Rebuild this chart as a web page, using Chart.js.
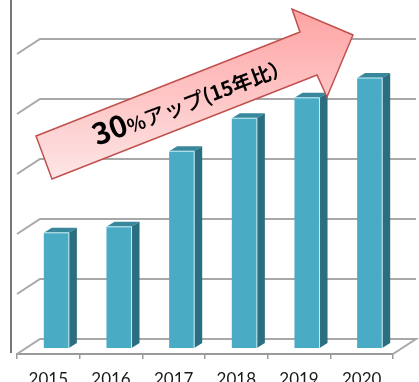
<!DOCTYPE html>
<html>
<head>
<meta charset="utf-8">
<script src="https://cdn.jsdelivr.net/npm/chart.js@4.4.1/dist/chart.umd.min.js"></script>
<style>
  html, body { margin: 0; padding: 0; background: #fff; }
  #wrap { width: 419px; height: 382px; }
</style>
</head>
<body>
<div id="wrap"><canvas id="grafik"></canvas></div>
<script>
// data (units = one back-wall gridline step)
const years = ["2015", "2016", "2017", "2018", "2019", "2020"];
const values = [1.92, 2.02, 3.28, 3.83, 4.17, 4.5];
const gridValues = [0, 1, 2, 3, 4, 5];

// 3D look
const WALL_DX = 23, WALL_DY = -15;   // back wall offset from front plane
const BAR_SHIFT_X = 8, BAR_SHIFT_Y = -6; // bars sit a bit behind the front edge
const BAR_DX = 8, BAR_DY = -5;       // bar depth

const fake3d = {
    id: "fake3d",
    beforeDatasetsDraw(chart) {
        const { ctx, chartArea: a, scales: { y } } = chart;
        ctx.save();
        // left frame line
        ctx.strokeStyle = "#4a4a4a";
        ctx.lineWidth = 1.5;
        ctx.beginPath();
        ctx.moveTo(a.left - 6, 0);
        ctx.lineTo(a.left - 6, a.bottom - 1);
        ctx.stroke();

        // wall gridlines + floor
        ctx.strokeStyle = "#a8a8a8";
        ctx.lineWidth = 2;
        gridValues.forEach(v => {
            const py = y.getPixelForValue(v);
            ctx.beginPath();
            ctx.moveTo(a.left, py);
            ctx.lineTo(a.left + WALL_DX, py + WALL_DY);
            ctx.lineTo(a.right + WALL_DX, py + WALL_DY);
            if (v === 0) ctx.lineTo(a.right, py);
            ctx.stroke();
        });
        ctx.restore();

        ctx.save();
        ctx.translate(BAR_SHIFT_X, BAR_SHIFT_Y);
    },
    afterDatasetsDraw(chart) {
        const { ctx } = chart;
        chart.getDatasetMeta(0).data.forEach(bar => {
            const { x, y, base, width } = bar.getProps(["x", "y", "base", "width"], true);
            const l = x - width / 2, r = x + width / 2;
            // top face
            ctx.fillStyle = "#38879c";
            ctx.beginPath();
            ctx.moveTo(l, y);
            ctx.lineTo(l + BAR_DX, y + BAR_DY);
            ctx.lineTo(r + BAR_DX, y + BAR_DY);
            ctx.lineTo(r, y);
            ctx.closePath();
            ctx.fill();
            // side face
            ctx.fillStyle = "#2b6e80";
            ctx.beginPath();
            ctx.moveTo(r, y);
            ctx.lineTo(r + BAR_DX, y + BAR_DY);
            ctx.lineTo(r + BAR_DX, base + BAR_DY);
            ctx.lineTo(r, base);
            ctx.closePath();
            ctx.fill();
            // light edge
            ctx.strokeStyle = "#c8eef8";
            ctx.lineWidth = 1;
            ctx.beginPath();
            ctx.moveTo(l, y);
            ctx.lineTo(r, y);
            ctx.lineTo(r, base);
            ctx.stroke();
        });
        ctx.restore();
    },
    afterDraw(chart) {
        const { ctx } = chart;
        // big arrow annotation
        const pts = [[36, 136], [300, 32], [292, 9], [353, 35], [327, 97], [317, 75], [52, 179]];
        ctx.save();
        const g = ctx.createLinearGradient(0, 9, 0, 179);
        g.addColorStop(0, "#ffa3a3");
        g.addColorStop(1, "#fde6e6");
        ctx.fillStyle = g;
        ctx.strokeStyle = "#c0504d";
        ctx.lineWidth = 1.5;
        ctx.lineJoin = "miter";
        ctx.beginPath();
        pts.forEach((p, i) => i ? ctx.lineTo(p[0], p[1]) : ctx.moveTo(p[0], p[1]));
        ctx.closePath();
        ctx.fill();
        ctx.stroke();

        // label along the arrow
        ctx.translate(97, 146);
        ctx.rotate(-0.36);
        ctx.fillStyle = "#000";
        ctx.textBaseline = "alphabetic";
        const parts = [
            ["30", "bold 30px 'Noto Sans CJK JP'", 0],
            ["%", "bold 19px 'Noto Sans CJK JP'", 0],
            ["アップ", "500 21px 'Noto Sans CJK JP'", 0],
            ["(15年比）", "bold 20px 'Noto Sans CJK JP'", -1]
        ];
        let cx = 0;
        parts.forEach(([t, f, dy]) => {
            ctx.font = f;
            ctx.fillText(t, cx, dy);
            cx += ctx.measureText(t).width;
        });
        ctx.restore();
    }
};

const ctx = document.getElementById("grafik").getContext("2d");
new Chart(ctx, {
    type: "bar",
    data: {
        labels: years,
        datasets: [{
            data: values,
            backgroundColor: "#4aabc5",
            borderWidth: 0,
            barPercentage: 0.4,
            categoryPercentage: 1.0
        }]
    },
    options: {
        responsive: true,
        maintainAspectRatio: false,
        animation: false,
        layout: { padding: { left: 17, right: 26, top: 54, bottom: 0 } },
        plugins: { legend: { display: false }, tooltip: { enabled: false } },
        scales: {
            x: {
                afterFit(scale) { scale.height = 28; },
                grid: { drawOnChartArea: false, color: "#9a9a9a", tickLength: 5, lineWidth: 1.5 },
                border: { color: "#9a9a9a", width: 2 },
                ticks: { color: "#1a1a1a", padding: 10, font: { family: "Lato", size: 17 } }
            },
            y: { display: false, min: 0, max: 5 }
        }
    },
    plugins: [fake3d]
});
</script>
</body>
</html>
